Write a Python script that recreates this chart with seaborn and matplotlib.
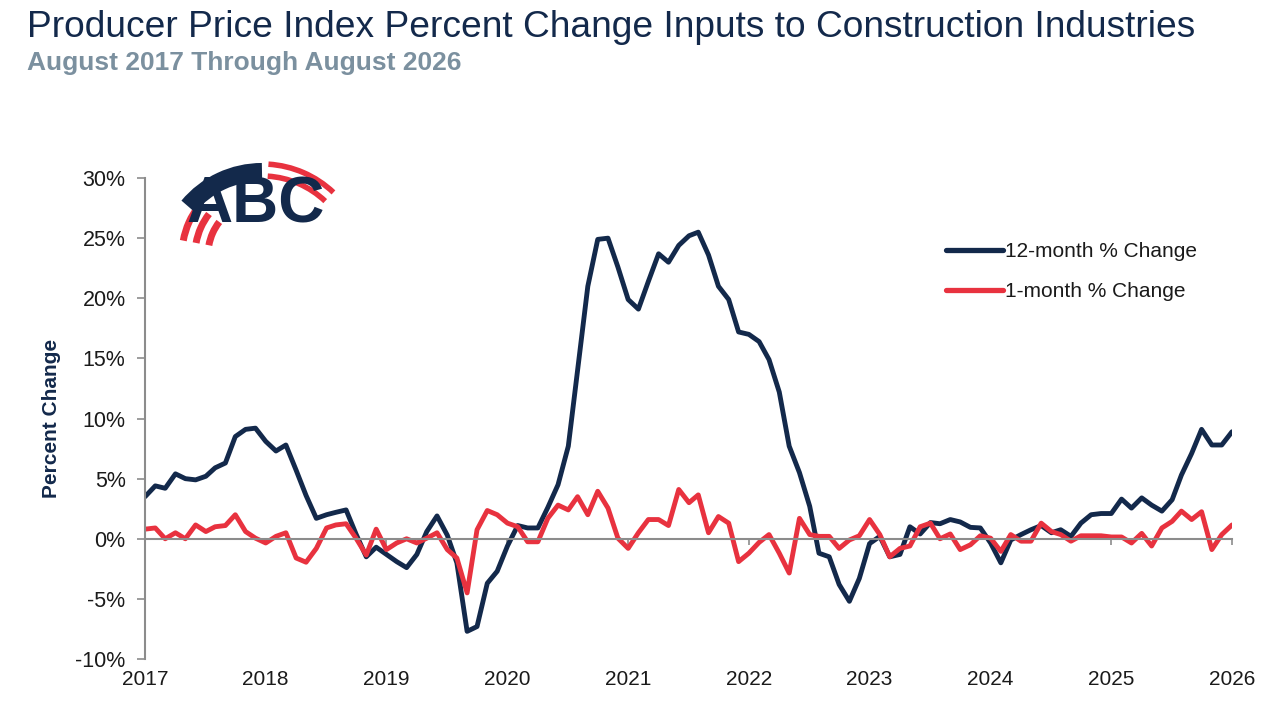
import numpy as np
import pandas as pd
import matplotlib
matplotlib.use("Agg")
import matplotlib.pyplot as plt
import matplotlib.dates as mdates
from matplotlib.patches import Arc
import seaborn as sns

# monthly PPI inputs to construction, Aug 2017 - Aug 2026
months = pd.date_range("2017-08-01", periods=109, freq="MS")

change_12m = [
    3.5, 4.4, 4.2, 5.4, 5.0, 4.9, 5.2, 5.9, 6.3, 8.5, 9.1, 9.2,
    8.1, 7.3, 7.8, 5.7, 3.6, 1.7, 2.0, 2.2, 2.4, 0.4, -1.5, -0.7,
    -1.3, -1.9, -2.4, -1.3, 0.6, 1.9, 0.3, -2.0, -7.7, -7.3, -3.7, -2.7,
    -0.6, 1.1, 0.9, 0.9, 2.6, 4.5, 7.7, 14.0, 21.0, 24.9, 25.0, 22.6,
    19.9, 19.1, 21.4, 23.7, 23.0, 24.4, 25.2, 25.5, 23.6, 21.0, 19.9, 17.2,
    17.0, 16.4, 14.9, 12.2, 7.7, 5.5, 2.7, -1.2, -1.5, -3.8, -5.2, -3.3,
    -0.4, 0.2, -1.5, -1.3, 1.0, 0.4, 1.35, 1.25, 1.6, 1.4, 0.95, 0.9,
    -0.35, -2.0, -0.1, 0.35, 0.75, 1.1, 0.5, 0.75, 0.2, 1.3, 2.0, 2.1,
    2.1, 3.3, 2.55, 3.4, 2.8, 2.3, 3.25, 5.3, 7.1, 9.1, 7.8, 7.8,
    8.9,
]

change_1m = [
    0.8, 0.9, 0.0, 0.5, 0.0, 1.15, 0.6, 1.0, 1.1, 2.0, 0.6, 0.05,
    -0.35, 0.2, 0.5, -1.6, -1.95, -0.8, 0.9, 1.15, 1.25, 0.05, -1.35, 0.8,
    -0.9, -0.35, 0.0, -0.35, 0.05, 0.5, -0.9, -1.6, -4.5, 0.75, 2.35, 2.0,
    1.3, 1.0, -0.25, -0.25, 1.7, 2.8, 2.4, 3.5, 2.0, 3.95, 2.55, 0.05,
    -0.8, 0.5, 1.6, 1.6, 1.1, 4.1, 3.0, 3.65, 0.5, 1.85, 1.3, -1.9,
    -1.2, -0.3, 0.35, -1.2, -2.85, 1.7, 0.35, 0.2, 0.2, -0.8, -0.1, 0.25,
    1.6, 0.35, -1.5, -0.8, -0.6, 1.0, 1.3, 0.0, 0.4, -0.9, -0.5, 0.25,
    0.05, -1.05, 0.35, -0.2, -0.2, 1.3, 0.6, 0.35, -0.2, 0.25, 0.25, 0.25,
    0.15, 0.15, -0.35, 0.45, -0.6, 0.9, 1.45, 2.3, 1.6, 2.25, -0.9, 0.35,
    1.15,
]

years = list(range(2017, 2027))

navy = "#13294b"
red = "#e8323f"
grey = "#8c8c8c"

df = pd.DataFrame({
    "date": list(months) * 2,
    "value": change_12m + change_1m,
    "series": ["12-month % Change"] * 109 + ["1-month % Change"] * 109,
})

sns.set_theme(style="white")
plt.rcParams["font.family"] = ["Liberation Sans", "DejaVu Sans"]

fig = plt.figure(figsize=(12.8, 7.2), dpi=100)
ax = fig.add_axes([0.1133, 0.0847, 0.8492, 0.668])

sns.lineplot(data=df, x="date", y="value", hue="series",
             palette=[navy, red], linewidth=3.5, ax=ax, legend=True)

ax.set_xlim(months[0], months[-1])
ax.set_ylim(-10, 30)
ax.set_yticks(range(-10, 31, 5))
ax.set_yticklabels([f"{v}%" for v in range(-10, 31, 5)], fontsize=15.5, color="#1a1a1a")
ax.tick_params(axis="y", direction="out", length=6, width=1.2, color=grey, pad=8, left=True)

# x axis sits on the zero line, year labels at the bottom
ticks = [pd.Timestamp(f"{y}-08-01") for y in years]
ax.set_xticks(ticks)
ax.tick_params(axis="x", direction="out", length=4, width=1.2, color=grey, labelbottom=False, bottom=True)
for t, y in zip(ticks, years):
    ax.text(mdates.date2num(t), -0.022, str(y), transform=ax.get_xaxis_transform(),
            ha="center", va="top", fontsize=15, color="#1a1a1a")

for s in ["top", "right"]:
    ax.spines[s].set_visible(False)
ax.spines["left"].set_color(grey)
ax.spines["left"].set_linewidth(1.5)
ax.spines["bottom"].set_position(("data", 0))
ax.spines["bottom"].set_color(grey)
ax.spines["bottom"].set_linewidth(1.5)

ax.set_xlabel("")
ax.set_ylabel("Percent Change", fontsize=15, fontweight="bold", color=navy, labelpad=10)

leg = ax.legend(loc="upper left", bbox_to_anchor=(0.72, 0.905), frameon=False,
                fontsize=15, handlelength=2.7, handletextpad=0.1, labelspacing=1.0)
for line in leg.get_lines():
    line.set_linewidth(3.8)
    line.set_solid_capstyle("round")
for txt in leg.get_texts():
    txt.set_color("#1a1a1a")

fig.text(0.021, 0.962, "Producer Price Index Percent Change Inputs to Construction Industries",
         fontsize=26.7, color=navy, ha="left", va="center")
fig.text(0.021, 0.913, "August 2017 Through August 2026",
         fontsize=19, fontweight="bold", color="#7b909f", ha="left", va="center")

# rough ABC logo
fig.text(0.2, 0.715, "ABC", fontsize=46, fontweight="heavy",
         color=navy, ha="center", va="center")


def logo_arc(cx, cy, r, t1, t2, color, lw):
    fig.patches.append(Arc((cx / 1280, 1 - cy / 720), 2 * r / 1280, 2 * r / 720,
                           theta1=t1, theta2=t2, transform=fig.transFigure,
                           color=color, linewidth=lw, figure=fig))


for r in [80, 67, 54]:
    logo_arc(262, 255, r, 126, 162, red, 5)
logo_arc(262, 268, 96, 90, 124, navy, 13)
for r in [104, 92]:
    logo_arc(262, 268, r, 62, 88, red, 4)

fig.savefig("out.png", dpi=100)
